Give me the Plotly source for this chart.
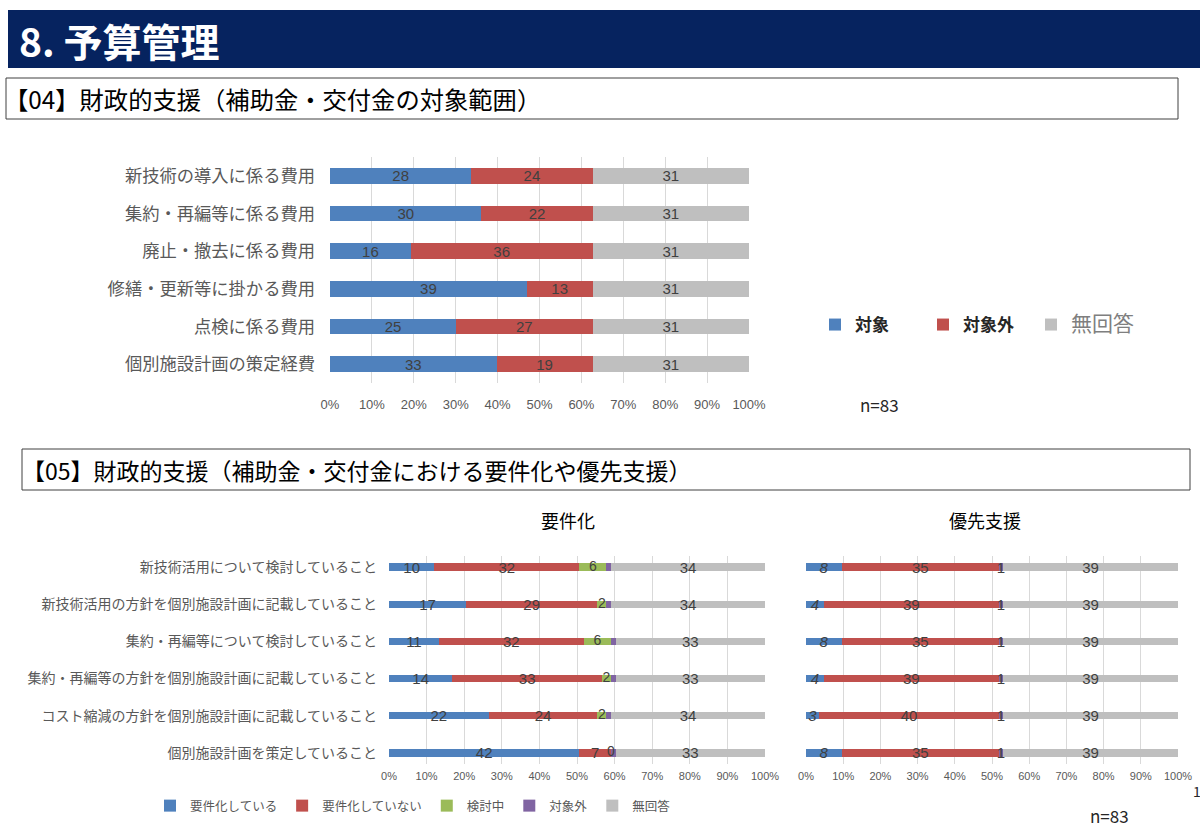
import plotly.graph_objects as go

# Fonts / colours
JP = "Noto Sans CJK JP"
NUM = "Liberation Sans Narrow, Liberation Sans, Arial, sans-serif"
BLUE, RED, GREEN, PURPLE, GRAY = "#4F81BD", "#C0504D", "#9BBB59", "#8064A2", "#BFBFBF"
TXT = "#404040"
W, H = 1200, 832

# [04] target range of subsidies
top_categories = ["新技術の導入に係る費用", "集約・再編等に係る費用", "廃止・撤去に係る費用",
                  "修繕・更新等に掛かる費用", "点検に係る費用", "個別施設計画の策定経費"]
top_target = [28, 30, 16, 39, 25, 33]
top_nontarget = [24, 22, 36, 13, 27, 19]
top_noanswer = [31, 31, 31, 31, 31, 31]

# [05] requirements / priority support
bottom_categories = ["新技術活用について検討していること", "新技術活用の方針を個別施設計画に記載していること",
                     "集約・再編等について検討していること", "集約・再編等の方針を個別施設計画に記載していること",
                     "コスト縮減の方針を個別施設計画に記載していること", "個別施設計画を策定していること"]
req_yes = [10, 17, 11, 14, 22, 42]
req_no = [32, 29, 32, 33, 24, 7]
req_review = [6, 2, 6, 2, 2, 0]
req_out = [1, 1, 1, 1, 1, 1]
req_na = [34, 34, 33, 33, 34, 33]

prio_yes = [8, 4, 8, 4, 3, 8]
prio_no = [35, 39, 35, 39, 40, 35]
prio_review = [0, 0, 0, 0, 0, 0]
prio_out = [1, 1, 1, 1, 1, 1]
prio_na = [39, 39, 39, 39, 39, 39]

pct_ticks = [0, 10, 20, 30, 40, 50, 60, 70, 80, 90, 100]
pct_labels = [f"{v}%" for v in pct_ticks]


def py(p):
    return 1 - p / H


def px_(p):
    return p / W


fig = go.Figure()

# Top chart
top_series = [
    ("<b>対象</b>", top_target, BLUE),
    ("<b>対象外</b>", top_nontarget, RED),
    ("<span style='color:#7f7f7f;font-size:21px'>無回答</span>", top_noanswer, GRAY),
]
for name, vals, col in top_series:
    fig.add_trace(go.Bar(
        y=top_categories, x=vals, orientation="h", name=name,
        marker=dict(color=col, line=dict(width=0)), width=0.42,
        text=vals, textposition="inside", insidetextanchor="middle", textangle=0,
        textfont=dict(family=NUM, size=15, color=TXT),
        xaxis="x", yaxis="y", legend="legend"
    ))

# Bottom left chart (要件化)
left_series = [
    ("要件化している", req_yes, BLUE, True),
    ("要件化していない", req_no, RED, True),
    ("検討中", req_review, GREEN, False),
    ("対象外", req_out, PURPLE, False),
    ("無回答", req_na, GRAY, True),
]
for name, vals, col, lab in left_series:
    fig.add_trace(go.Bar(
        y=bottom_categories, x=vals, orientation="h", name=name,
        marker=dict(color=col, line=dict(width=0)), width=0.2,
        text=vals if lab else None, textposition="inside", insidetextanchor="middle", textangle=0,
        textfont=dict(family=NUM, size=13, color=TXT),
        xaxis="x2", yaxis="y2", legend="legend2"
    ))

# green labels (incl. the zero one) placed at the middle of the green segment
totals = [a + b + c + d + e for a, b, c, d, e in zip(req_yes, req_no, req_review, req_out, req_na)]
green_mid = [(a + b + c / 2) / t * 100 for a, b, c, t in zip(req_yes, req_no, req_review, totals)]
fig.add_trace(go.Scatter(
    x=green_mid, y=bottom_categories, mode="text", text=req_review, textposition="middle center",
    textfont=dict(family=NUM, size=14, color=TXT), showlegend=False,
    xaxis="x2", yaxis="y2", hoverinfo="skip"
))

# Bottom right chart (優先支援)
right_series = [
    (prio_yes, BLUE, True, "italic"),
    (prio_no, RED, True, "normal"),
    (prio_review, GREEN, False, "normal"),
    (prio_out, PURPLE, True, "normal"),
    (prio_na, GRAY, True, "normal"),
]
for vals, col, lab, style in right_series:
    fig.add_trace(go.Bar(
        y=bottom_categories, x=vals, orientation="h", showlegend=False,
        marker=dict(color=col, line=dict(width=0)), width=0.2,
        text=vals if lab else None, textposition="inside", insidetextanchor="middle", textangle=0,
        textfont=dict(family=NUM, size=13, color=TXT, style=style),
        xaxis="x3", yaxis="y3"
    ))

xcommon = dict(range=[0, 100], tickmode="array", tickvals=pct_ticks, ticktext=pct_labels,
               showgrid=True, gridcolor="#D9D9D9", gridwidth=1, zeroline=False, showline=False,
               ticks="", fixedrange=True, automargin=False)
ycommon = dict(type="category", ticks="", showgrid=False, fixedrange=True, automargin=False)
fig.update_layout(
    width=W, height=H, margin=dict(l=0, r=0, t=0, b=0, autoexpand=False),
    paper_bgcolor="white", plot_bgcolor="white",
    barmode="stack", barnorm="percent",
    uniformtext=dict(minsize=15, mode="show"),
    font=dict(family=JP, color=TXT),
    xaxis=dict(xcommon, domain=[px_(330), px_(749)], anchor="y",
               tickfont=dict(family=NUM, size=13, color="#595959"), ticklabelstandoff=12),
    yaxis=dict(ycommon, domain=[py(383), py(157)], anchor="x", range=[5.5, -0.5],
               tickfont=dict(family=JP, size=17.3, color="#595959"), ticklabelstandoff=14),
    xaxis2=dict(xcommon, domain=[px_(389), px_(765)], anchor="y2",
                tickfont=dict(family=NUM, size=11, color="#595959"), ticklabelstandoff=4),
    yaxis2=dict(ycommon, domain=[py(764), py(556)], anchor="x2", range=[5.3, -0.3],
                tickfont=dict(family=JP, size=14, color="#595959"), ticklabelstandoff=11),
    xaxis3=dict(xcommon, domain=[px_(806), px_(1178)], anchor="y3",
                tickfont=dict(family=NUM, size=11, color="#595959"), ticklabelstandoff=4),
    yaxis3=dict(ycommon, domain=[py(764), py(556)], anchor="x3", range=[5.3, -0.3],
                showticklabels=False),
    legend=dict(orientation="h", x=px_(815), y=py(325), xanchor="left", yanchor="middle",
                font=dict(family=JP, size=17, color="#262626"), entrywidth=63,
                bgcolor="rgba(0,0,0,0)", traceorder="normal"),
    legend2=dict(orientation="h", x=px_(150), y=py(806), xanchor="left", yanchor="middle",
                 font=dict(family=JP, size=12.5, color="#595959"),
                 bgcolor="rgba(0,0,0,0)", traceorder="normal"),
    showlegend=True,
)

# Header bar and section boxes
fig.add_shape(type="rect", xref="paper", yref="paper", x0=px_(8), x1=1, y0=py(68), y1=py(10),
              fillcolor="#06235F", line=dict(width=0), layer="below")
fig.add_shape(type="rect", xref="paper", yref="paper", x0=px_(6), x1=px_(1178), y0=py(119), y1=py(78),
              fillcolor="white", line=dict(color="#404040", width=1), layer="below")
fig.add_shape(type="rect", xref="paper", yref="paper", x0=px_(22), x1=px_(1190), y0=py(490), y1=py(449),
              fillcolor="white", line=dict(color="#404040", width=1), layer="below")

annots = [
    ("<b>8. 予算管理</b>", 17, 40, "left", 39, "white"),
    ("【04】財政的支援（補助金・交付金の対象範囲）", 2, 99, "left", 24.3, "#000000"),
    ("n=83", 858, 404, "left", 17, "#262626"),
    ("【05】財政的支援（補助金・交付金における要件化や優先支援）", 20, 470, "left", 23, "#000000"),
    ("要件化", 568, 520, "center", 18, "#000000"),
    ("優先支援", 985, 520, "center", 18, "#000000"),
    ("n=83", 1088, 815, "left", 17, "#262626"),
    ("1", 1191, 791, "left", 14, "#262626"),
]
for text, x, y, anchor, size, col in annots:
    fig.add_annotation(text=text, x=px_(x), y=py(y), xref="paper", yref="paper",
                       xanchor=anchor, yanchor="middle", showarrow=False,
                       font=dict(family=JP, size=size, color=col))

# drop the page's default body margin so the figure sits at the window's corner
fig.write_html("out.html", config={"displayModeBar": False},
               post_script="document.body.style.margin='0';document.body.style.overflow='hidden';")
